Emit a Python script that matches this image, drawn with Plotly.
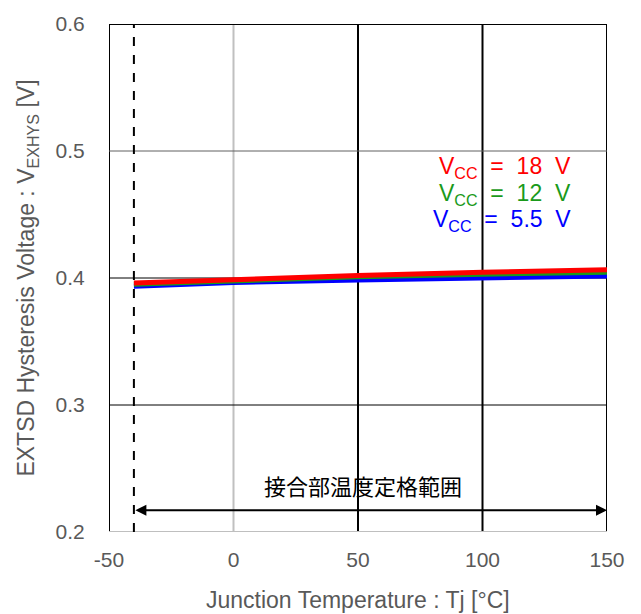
import plotly.graph_objects as go

temps = [-40, 0, 50, 100, 150]
v18 = [0.3960, 0.3990, 0.4020, 0.4045, 0.4065]
v12 = [0.3950, 0.3980, 0.4010, 0.4030, 0.4045]
v55 = [0.3935, 0.3965, 0.3985, 0.4000, 0.4015]

x_ticks = [-50, 0, 50, 100, 150]
x_ticktext = ["-50", "0", "50", "100", "150"]
y_ticks = [0.2, 0.3, 0.4, 0.5, 0.6]
range_label = "接合部温度定格範囲"
x_title = "Junction Temperature : Tj [°C]"
tj_min, tj_max = -40, 150

fig = go.Figure()
for vals, col in [(v55, "#0000ff"), (v12, "#1a9a1a"), (v18, "#ff0000")]:
    fig.add_trace(go.Scatter(x=temps, y=vals, mode="lines",
                             line=dict(color=col, width=5), showlegend=False))

shapes = []
vcols = {-50: "black", 0: "#c0c0c0", 50: "black", 100: "black", 150: "black"}
for xv in x_ticks:
    shapes.append(dict(type="line", xref="x", yref="y", x0=xv, x1=xv, y0=0.2, y1=0.6,
                       line=dict(color=vcols[xv], width=2), layer="below"))
hcols = {0.2: "#bfbfbf", 0.3: "black", 0.4: "black", 0.5: "#606060", 0.6: "black"}
for yv in y_ticks:
    shapes.append(dict(type="line", xref="x", yref="y", x0=-50, x1=150, y0=yv, y1=yv,
                       line=dict(color=hcols[yv], width=2 if yv in (0.2, 0.6) else 1), layer="below"))
shapes.append(dict(type="line", xref="x", yref="y", x0=tj_min, x1=tj_min, y0=0.2, y1=0.6,
                   line=dict(color="black", width=2, dash="dash")))
fig.update_layout(shapes=shapes)

annotations = [
    dict(x=tj_max, y=0.2172, ax=tj_min, ay=0.2172, xref="x", yref="y", axref="x", ayref="y",
         showarrow=True, arrowhead=2, arrowside="end+start", arrowsize=1.1, arrowwidth=2,
         arrowcolor="black", text=""),
    dict(x=52, y=0.2372, xref="x", yref="y", text=range_label, showarrow=False,
         font=dict(family="Noto Sans CJK JP", size=22, color="black")),
    dict(x=0.5, y=-0.133, xref="paper", yref="paper", text=x_title, showarrow=False,
         xanchor="center", yanchor="middle",
         font=dict(family="Liberation Sans, Arial", size=23, color="#595959")),
]
sp = "\u00a0\u00a0"
legend = [(f"V<sub>CC</sub>{sp}={sp}18{sp}V", "#ff0000", 0.4867),
          (f"V<sub>CC</sub>{sp}={sp}12{sp}V", "#1a9a1a", 0.4660),
          (f"V<sub>CC</sub>{sp}={sp}5.5{sp}V", "#0000ff", 0.4453)]
for txt, col, yv in legend:
    annotations.append(dict(x=136.5, y=yv, xref="x", yref="y", text=txt, showarrow=False,
                            xanchor="right", yanchor="middle",
                            font=dict(family="Liberation Sans, Arial", size=23, color=col)))
fig.update_layout(annotations=annotations)

fig.update_layout(
    width=641, height=614,
    margin=dict(l=109, r=34, t=20, b=82),
    plot_bgcolor="white", paper_bgcolor="white",
    font=dict(family="Liberation Sans, Arial", color="#595959"),
    xaxis=dict(range=[-50, 150], tickvals=x_ticks, ticktext=x_ticktext, showgrid=False, zeroline=False,
               showline=False, ticks="outside", ticklen=9, tickcolor="rgba(0,0,0,0)",
               tickfont=dict(size=21, color="#595959")),
    yaxis=dict(range=[0.2, 0.6], tickvals=y_ticks, tickformat=".1f", showgrid=False, zeroline=False,
               showline=False, ticks="outside", ticklen=19, tickcolor="rgba(0,0,0,0)",
               tickfont=dict(size=21, color="#595959"),
               title=dict(text="EXTSD Hysteresis Voltage : V<sub>EXHYS</sub> [V]",
                          font=dict(size=23, color="#595959"), standoff=14)),
)
fig.write_html("out.html")
